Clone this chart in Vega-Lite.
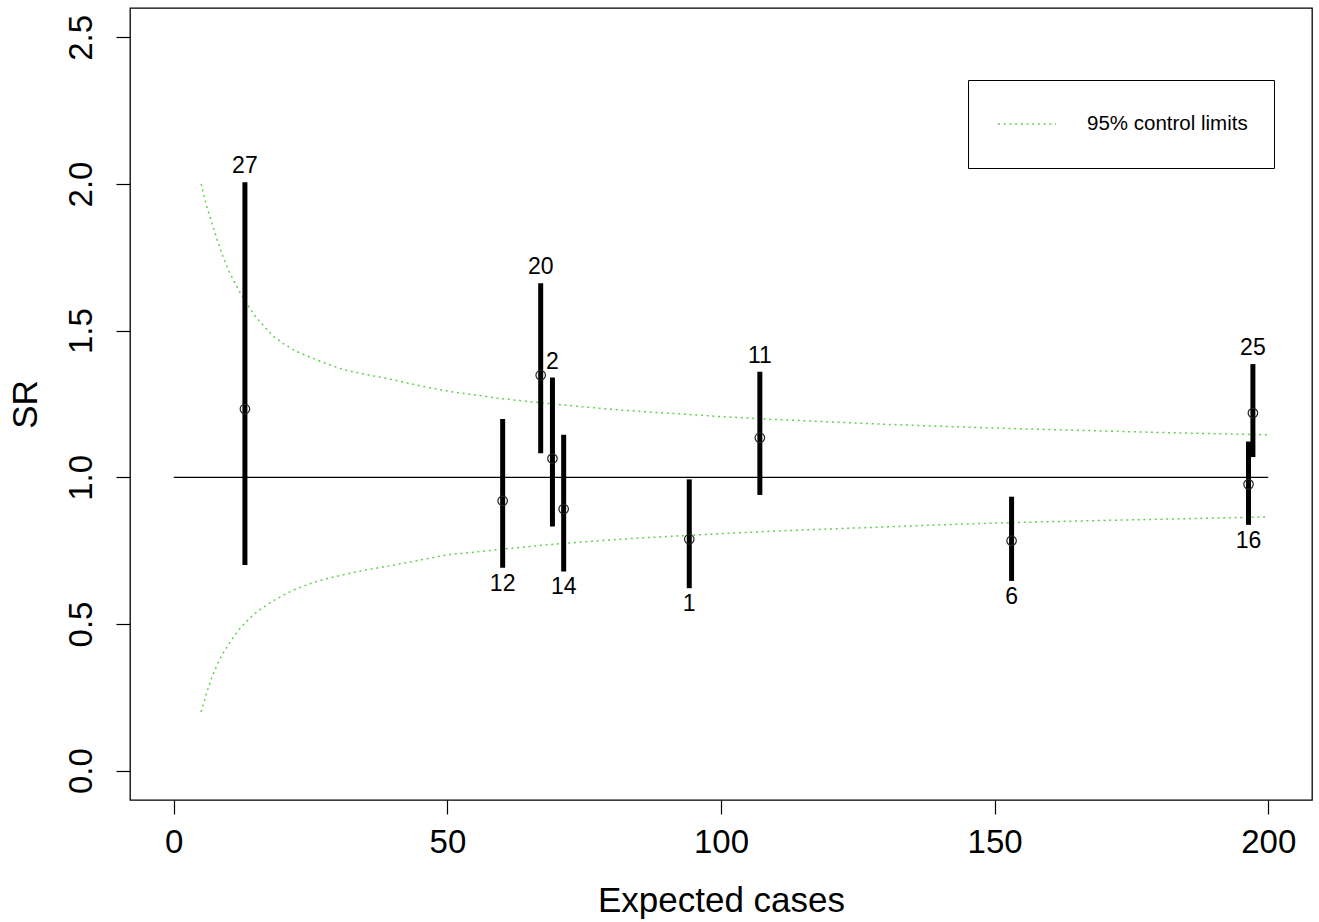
{
  "$schema": "https://vega.github.io/schema/vega-lite/v6.json",
  "width": 1182,
  "height": 792,
  "autosize": {"type": "none"},
  "padding": {"left": 130, "top": 8, "right": 7, "bottom": 122},
  "background": "white",
  "config": {
    "font": "Liberation Sans",
    "view": {"stroke": "#000", "strokeWidth": 1.3},
    "axis": {
      "grid": false,
      "domain": false,
      "tickColor": "#000",
      "tickWidth": 1.2,
      "tickSize": 14,
      "labelFont": "Liberation Sans",
      "labelFontSize": 33,
      "labelColor": "#000",
      "labelPadding": 12,
      "labelFlush": false,
      "labelOverlap": false,
      "titleFont": "Liberation Sans",
      "titleFontSize": 35,
      "titleFontWeight": "normal",
      "titleColor": "#000",
      "titlePadding": 24
    }
  },
  "datasets": {
    "funnel": [
      {"e": 5, "lo": 0.200, "hi": 2.000},
      {"e": 6, "lo": 0.265, "hi": 1.925},
      {"e": 7, "lo": 0.320, "hi": 1.865},
      {"e": 8, "lo": 0.365, "hi": 1.806},
      {"e": 9, "lo": 0.400, "hi": 1.753},
      {"e": 10, "lo": 0.430, "hi": 1.706},
      {"e": 11, "lo": 0.458, "hi": 1.669},
      {"e": 12, "lo": 0.482, "hi": 1.634},
      {"e": 13, "lo": 0.503, "hi": 1.603},
      {"e": 14, "lo": 0.522, "hi": 1.574},
      {"e": 15, "lo": 0.538, "hi": 1.546},
      {"e": 16, "lo": 0.552, "hi": 1.525},
      {"e": 18, "lo": 0.577, "hi": 1.484},
      {"e": 20, "lo": 0.598, "hi": 1.456},
      {"e": 22, "lo": 0.617, "hi": 1.433},
      {"e": 25, "lo": 0.638, "hi": 1.409},
      {"e": 28, "lo": 0.655, "hi": 1.387},
      {"e": 31, "lo": 0.668, "hi": 1.367},
      {"e": 35, "lo": 0.684, "hi": 1.351},
      {"e": 40, "lo": 0.700, "hi": 1.333},
      {"e": 45, "lo": 0.718, "hi": 1.312},
      {"e": 50, "lo": 0.736, "hi": 1.294},
      {"e": 55, "lo": 0.745, "hi": 1.281},
      {"e": 60, "lo": 0.755, "hi": 1.268},
      {"e": 65, "lo": 0.764, "hi": 1.258},
      {"e": 70, "lo": 0.773, "hi": 1.249},
      {"e": 75, "lo": 0.780, "hi": 1.240},
      {"e": 80, "lo": 0.787, "hi": 1.232},
      {"e": 85, "lo": 0.793, "hi": 1.225},
      {"e": 90, "lo": 0.798, "hi": 1.219},
      {"e": 95, "lo": 0.803, "hi": 1.213},
      {"e": 100, "lo": 0.808, "hi": 1.207},
      {"e": 110, "lo": 0.817, "hi": 1.197},
      {"e": 120, "lo": 0.824, "hi": 1.189},
      {"e": 130, "lo": 0.831, "hi": 1.181},
      {"e": 140, "lo": 0.838, "hi": 1.174},
      {"e": 150, "lo": 0.844, "hi": 1.168},
      {"e": 160, "lo": 0.849, "hi": 1.163},
      {"e": 170, "lo": 0.853, "hi": 1.158},
      {"e": 180, "lo": 0.857, "hi": 1.153},
      {"e": 190, "lo": 0.861, "hi": 1.149},
      {"e": 200, "lo": 0.865, "hi": 1.145}
    ],
    "units": [
      {"id": "27", "e": 13.0, "sr": 1.233, "lower": 0.701, "upper": 2.006, "side": "above"},
      {"id": "12", "e": 60.1, "sr": 0.920, "lower": 0.692, "upper": 1.199, "side": "below"},
      {"id": "20", "e": 67.05, "sr": 1.348, "lower": 1.082, "upper": 1.662, "side": "above"},
      {"id": "2", "e": 69.2, "sr": 1.064, "lower": 0.832, "upper": 1.340, "side": "above"},
      {"id": "14", "e": 71.25, "sr": 0.892, "lower": 0.679, "upper": 1.145, "side": "below"},
      {"id": "1", "e": 94.2, "sr": 0.789, "lower": 0.622, "upper": 0.993, "side": "below"},
      {"id": "11", "e": 107.1, "sr": 1.135, "lower": 0.940, "upper": 1.360, "side": "above"},
      {"id": "6", "e": 153.1, "sr": 0.784, "lower": 0.647, "upper": 0.934, "side": "below"},
      {"id": "16", "e": 196.4, "sr": 0.976, "lower": 0.838, "upper": 1.122, "side": "below"},
      {"id": "25", "e": 197.2, "sr": 1.219, "lower": 1.069, "upper": 1.386, "side": "above"}
    ]
  },
  "layer": [
    {
      "data": {"name": "funnel"},
      "mark": {"type": "line", "strokeWidth": 1.5, "strokeDash": [2, 3.7]},
      "encoding": {
        "x": {
          "field": "e", "type": "quantitative",
          "scale": {"domain": [-8, 208], "nice": false, "zero": false},
          "axis": {"values": [0, 50, 100, 150, 200]},
          "title": "Expected cases"
        },
        "y": {
          "field": "hi", "type": "quantitative",
          "scale": {"domain": [-0.1, 2.6], "nice": false, "zero": false},
          "axis": {"values": [0, 0.5, 1, 1.5, 2, 2.5], "format": ".1f", "labelAngle": -90, "labelAlign": "center", "labelBaseline": "bottom", "labelPadding": 18, "titlePadding": 22},
          "title": "SR"
        },
        "color": {
          "datum": "95% control limits", "type": "nominal",
          "scale": {"range": ["#61D04F"]},
          "legend": {
            "orient": "none", "legendX": 838, "legendY": 72, "title": null,
            "strokeColor": "#000", "fillColor": "#fff", "padding": 26,
            "symbolType": "stroke", "symbolSize": 3364, "symbolStrokeWidth": 1.5,
            "symbolDash": [2, 3.7], "symbolOffset": 3, "labelOffset": 30, "labelLimit": 400,
            "clipHeight": 36,
            "labelFont": "Liberation Sans", "labelFontSize": 20.5, "labelColor": "#000"
          }
        }
      }
    },
    {
      "data": {"name": "funnel"},
      "mark": {"type": "line", "strokeWidth": 1.5, "strokeDash": [2, 3.7]},
      "encoding": {
        "x": {"field": "e", "type": "quantitative"},
        "y": {"field": "lo", "type": "quantitative"},
        "color": {"datum": "95% control limits", "type": "nominal"}
      }
    },
    {
      "data": {"values": [{}]},
      "mark": {"type": "rule", "color": "#000", "strokeWidth": 1.3},
      "encoding": {
        "x": {"datum": 0, "type": "quantitative"},
        "x2": {"datum": 200},
        "y": {"datum": 1, "type": "quantitative"}
      }
    },
    {
      "data": {"name": "units"},
      "mark": {"type": "rule", "color": "#000", "strokeWidth": 5},
      "encoding": {
        "x": {"field": "e", "type": "quantitative"},
        "y": {"field": "lower", "type": "quantitative"},
        "y2": {"field": "upper"}
      }
    },
    {
      "data": {"name": "units"},
      "mark": {"type": "point", "shape": "circle", "filled": false, "size": 90, "stroke": "#222", "strokeWidth": 1.2, "opacity": 1},
      "encoding": {
        "x": {"field": "e", "type": "quantitative"},
        "y": {"field": "sr", "type": "quantitative"}
      }
    },
    {
      "data": {"name": "units"},
      "transform": [{"filter": "datum.side == 'above'"}],
      "mark": {"type": "text", "font": "Liberation Sans", "fontSize": 23, "baseline": "alphabetic", "align": "center", "dy": -9, "color": "#000"},
      "encoding": {
        "x": {"field": "e", "type": "quantitative"},
        "y": {"field": "upper", "type": "quantitative"},
        "text": {"field": "id", "type": "nominal"}
      }
    },
    {
      "data": {"name": "units"},
      "transform": [{"filter": "datum.side == 'below'"}],
      "mark": {"type": "text", "font": "Liberation Sans", "fontSize": 23, "baseline": "alphabetic", "align": "center", "dy": 23, "color": "#000"},
      "encoding": {
        "x": {"field": "e", "type": "quantitative"},
        "y": {"field": "lower", "type": "quantitative"},
        "text": {"field": "id", "type": "nominal"}
      }
    }
  ]
}
